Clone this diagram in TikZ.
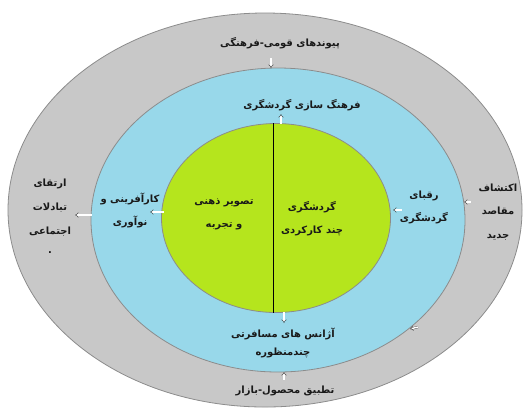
\documentclass[tikz,border=0pt]{standalone}
\usepackage{fontspec}
\usetikzlibrary{shapes.geometric,arrows.meta}
\TeXXeTstate=1
\newfontfamily\fafont[Script=Arabic,BoldFont={DejaVu Sans Bold}]{DejaVu Sans}
\newcommand\pe[1]{\beginR #1\endR}
\definecolor{ringgray}{RGB}{200,200,200}
\definecolor{ringblue}{RGB}{152,216,234}
\definecolor{ringgreen}{RGB}{181,229,29}
\begin{document}
\begin{tikzpicture}[x=1bp,y=-1bp,
  ring/.style={ellipse, draw=black!45, line width=0.8pt, inner sep=0pt},
  lbl/.style={font=\fafont\bfseries\fontsize{10}{15}\selectfont, align=center, inner sep=0pt, text=black!90},
  harrow/.style={draw=black!70, line width=0.4pt, double=white, double distance=1.4pt, -{Implies}}]
\useasboundingbox (0,0) rectangle (529,409);
\fill[white] (0,0) rectangle (529,409);
\node[ring, fill=ringgray, minimum width=514bp, minimum height=394bp] (outer) at (265,210) {};
\node[ring, fill=ringblue, minimum width=374bp, minimum height=304bp] (mid) at (278,220) {};
\node[ring, fill=ringgreen, minimum width=229bp, minimum height=189bp] (inner) at (276,218) {};
\draw[line width=0.9pt] (inner.north -| 273,0) -- (inner.south -| 273,0);
% labels
\node[lbl] (t1) at (280,43) {\pe{پیوندهای قومی-فرهنگی}};
\node[lbl] (t2) at (302,105) {\pe{فرهنگ سازی گردشگری}};
\node[lbl] (t3) at (50,216) {\pe{ارتقای}\\[9pt]\pe{تبادلات}\\[9pt]\pe{اجتماعی}\\[4pt]\pe{.}};
\node[lbl] (t4) at (130,210) {\pe{کارآفرینی و}\\[8pt]\pe{نوآوری}};
\node[lbl] (t5) at (224,214) {\pe{تصویر ذهنی}\\[8pt]\pe{و تجربه}};
\node[lbl] (t6) at (312,219) {\pe{گردشگری}\\[8pt]\pe{چند کارکردی}};
\node[lbl] (t7) at (424,207) {\pe{رقبای}\\[8pt]\pe{گردشگری}};
\node[lbl] (t8) at (498,212) {\pe{اکتشاف}\\[9pt]\pe{مقاصد}\\[9pt]\pe{جدید}};
\node[lbl] (t9) at (283,343) {\pe{آژانس های مسافرتی}\\[3pt]\pe{چندمنظوره}};
\node[lbl] (t10) at (285,391) {\pe{تطبیق محصول-بازار}};
% small hollow arrows
\coordinate (a1s) at (271,58); \coordinate (a1e) at (271,68);
\coordinate (a2s) at (281,124); \coordinate (a2e) at (281,114);
\coordinate (a3s) at (164,212); \coordinate (a3e) at (150,212);
\coordinate (a4s) at (92,215); \coordinate (a4e) at (75,215);
\coordinate (a5s) at (284,312); \coordinate (a5e) at (284,323);
\coordinate (a6s) at (284,380); \coordinate (a6e) at (284,372);
\coordinate (a7s) at (402,210); \coordinate (a7e) at (393,210);
\coordinate (a8s) at (471,202); \coordinate (a8e) at (464,202);
\coordinate (a9s) at (418,327); \coordinate (a9e) at (410,329);
\foreach \a in {1,...,9} {\draw[harrow] (a\a s) -- (a\a e);}
\end{tikzpicture}
\end{document}
